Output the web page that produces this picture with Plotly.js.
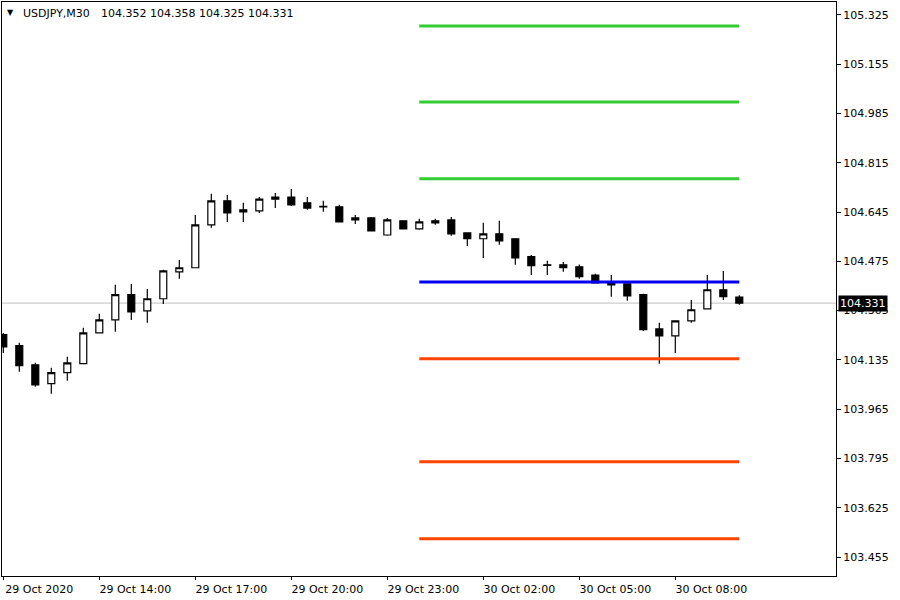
<!DOCTYPE html>
<html>
<head>
<meta charset="utf-8">
<script src="https://cdn.plot.ly/plotly-3.0.1.min.js"></script>
<style>html,body{margin:0;padding:0;background:#fff;}#chart{width:900px;height:600px;}</style>
</head>
<body>
<div id="chart"></div>
<script>
// ---- data ----
const times = [
  "2020-10-29 11:00","2020-10-29 11:30","2020-10-29 12:00","2020-10-29 12:30","2020-10-29 13:00","2020-10-29 13:30",
  "2020-10-29 14:00","2020-10-29 14:30","2020-10-29 15:00","2020-10-29 15:30","2020-10-29 16:00","2020-10-29 16:30",
  "2020-10-29 17:00","2020-10-29 17:30","2020-10-29 18:00","2020-10-29 18:30","2020-10-29 19:00","2020-10-29 19:30",
  "2020-10-29 20:00","2020-10-29 20:30","2020-10-29 21:00","2020-10-29 21:30","2020-10-29 22:00","2020-10-29 22:30",
  "2020-10-29 23:00","2020-10-29 23:30","2020-10-30 00:00","2020-10-30 00:30","2020-10-30 01:00","2020-10-30 01:30",
  "2020-10-30 02:00","2020-10-30 02:30","2020-10-30 03:00","2020-10-30 03:30","2020-10-30 04:00","2020-10-30 04:30",
  "2020-10-30 05:00","2020-10-30 05:30","2020-10-30 06:00","2020-10-30 06:30","2020-10-30 07:00","2020-10-30 07:30",
  "2020-10-30 08:00","2020-10-30 08:30","2020-10-30 09:00","2020-10-30 09:30","2020-10-30 10:00"
];
const openP = [104.222,104.184,104.118,104.053,104.091,104.122,104.228,104.273,104.360,104.304,104.346,104.439,
  104.453,104.601,104.684,104.653,104.649,104.697,104.697,104.677,104.665,104.663,104.618,104.625,
  104.566,104.615,104.587,104.615,104.618,104.573,104.553,104.570,104.553,104.491,104.463,104.463,
  104.456,104.428,104.404,104.397,104.360,104.242,104.218,104.270,104.311,104.377,104.352];
const highP = [104.228,104.194,104.125,104.108,104.146,104.246,104.294,104.394,104.397,104.380,104.446,104.480,
  104.635,104.708,104.704,104.677,104.697,104.711,104.725,104.697,104.684,104.670,104.635,104.628,
  104.625,104.617,104.622,104.622,104.628,104.575,104.608,104.615,104.555,104.497,104.477,104.473,
  104.464,104.432,104.428,104.399,104.363,104.263,104.272,104.342,104.428,104.442,104.358];
const lowP = [104.159,104.094,104.042,104.018,104.063,104.120,104.226,104.232,104.273,104.263,104.328,104.415,
  104.451,104.591,104.611,104.611,104.642,104.659,104.666,104.653,104.646,104.610,104.604,104.579,
  104.563,104.585,104.584,104.601,104.563,104.528,104.487,104.532,104.463,104.428,104.428,104.439,
  104.415,104.399,104.353,104.339,104.235,104.122,104.159,104.263,104.310,104.342,104.325];
const closeP = [104.180,104.115,104.049,104.091,104.125,104.228,104.273,104.360,104.301,104.346,104.442,104.453,
  104.601,104.684,104.642,104.646,104.690,104.690,104.670,104.659,104.663,104.611,104.625,104.580,
  104.618,104.587,104.611,104.608,104.570,104.553,104.570,104.546,104.487,104.460,104.461,104.453,
  104.422,104.401,104.394,104.356,104.239,104.218,104.270,104.308,104.377,104.353,104.331];

const levelNames = ["R3","R2","R1","P","S1","S2","S3"];
const levelValues = [105.287,105.025,104.760,104.404,104.139,103.784,103.518];
const levelStart = "2020-10-30 00:00";
const levelEnd = "2020-10-30 10:00";

const bidPrice = 104.331;
const symbolText = "USDJPY,M30";
const ohlcText = "104.352 104.358 104.325 104.331";

const yTickVals = [103.455,103.625,103.795,103.965,104.135,104.305,104.475,104.645,104.815,104.985,105.155,105.325];
const xTickVals = ["2020-10-29 11:00","2020-10-29 14:00","2020-10-29 17:00","2020-10-29 20:00",
  "2020-10-29 23:00","2020-10-30 02:00","2020-10-30 05:00","2020-10-30 08:00"];
const xTickText = ["29 Oct 2020","29 Oct 14:00","29 Oct 17:00","29 Oct 20:00",
  "29 Oct 23:00","30 Oct 02:00","30 Oct 05:00","30 Oct 08:00"];

// ---- styles ----
const levelColors = ["#32CD32","#32CD32","#32CD32","#0000F0","#FF4500","#FF4500","#FF4500"];
const FONT = "DejaVu Sans";

const traces = [];
levelValues.forEach((v,i)=>{
  traces.push({
    type:"scatter", mode:"lines", name: levelNames[i],
    x:[levelStart, levelEnd], y:[v, v],
    line:{color: levelColors[i], width:3},
    hoverinfo:"skip", showlegend:false
  });
});
traces.push({
  type:"candlestick", x:times, open:openP, high:highP, low:lowP, close:closeP,
  increasing:{line:{color:"#000000", width:1.2}, fillcolor:"#FFFFFF"},
  decreasing:{line:{color:"#000000", width:1.2}, fillcolor:"#000000"},
  whiskerwidth:0, showlegend:false
});

const layout = {
  width:900, height:600,
  margin:{l:2, r:64, t:2, b:24, pad:0},
  paper_bgcolor:"#FFFFFF", plot_bgcolor:"#FFFFFF",
  showlegend:false,
  boxgap:0.38,
  font:{family:FONT, size:11, color:"#000000"},
  xaxis:{
    type:"date",
    range:["2020-10-29 10:57:34","2020-10-30 13:01:18"],
    rangeslider:{visible:false},
    showgrid:false, zeroline:false,
    showline:true, linecolor:"#000000", linewidth:1, mirror:true,
    ticks:"outside", ticklen:3, tickcolor:"#000000", tickwidth:1,
    tickvals:xTickVals, ticktext:xTickText,
    tickfont:{family:FONT, size:11, color:"#000000"},
    ticklabelshift:36
  },
  yaxis:{
    side:"right",
    range:[103.3895, 105.3698],
    showgrid:false, zeroline:false,
    showline:true, linecolor:"#000000", linewidth:1, mirror:true,
    ticks:"outside", ticklen:4, tickcolor:"#000000", tickwidth:1,
    tickvals:yTickVals, ticktext:yTickVals.map(v=>v.toFixed(3)),
    tickfont:{family:FONT, size:11, color:"#000000"}
  },
  shapes:[{
    type:"line", xref:"paper", x0:0, x1:1, yref:"y", y0:bidPrice, y1:bidPrice,
    line:{color:"#C0C0C0", width:1}, layer:"below"
  }],
  annotations:[
    {xref:"paper", yref:"paper", x:0, y:1, xanchor:"left", yanchor:"middle", xshift:3, yshift:-10,
     text:"▼", showarrow:false, font:{family:FONT, size:8, color:"#000000"}},
    {xref:"paper", yref:"paper", x:0, y:1, xanchor:"left", yanchor:"middle", xshift:19, yshift:-11,
     text:symbolText, showarrow:false, font:{family:FONT, size:11, color:"#000000"}},
    {xref:"paper", yref:"paper", x:0, y:1, xanchor:"left", yanchor:"middle", xshift:97, yshift:-11,
     text:ohlcText, showarrow:false, font:{family:FONT, size:11, color:"#000000"}},
    {xref:"paper", yref:"y", x:1, y:bidPrice, xanchor:"left", yanchor:"middle", xshift:2,
     text:bidPrice.toFixed(3), showarrow:false, bgcolor:"#000000", borderpad:1,
     font:{family:FONT, size:11, color:"#FFFFFF"}}
  ]
};

Plotly.newPlot("chart", traces, layout, {staticPlot:true, displayModeBar:false});
</script>
</body>
</html>
